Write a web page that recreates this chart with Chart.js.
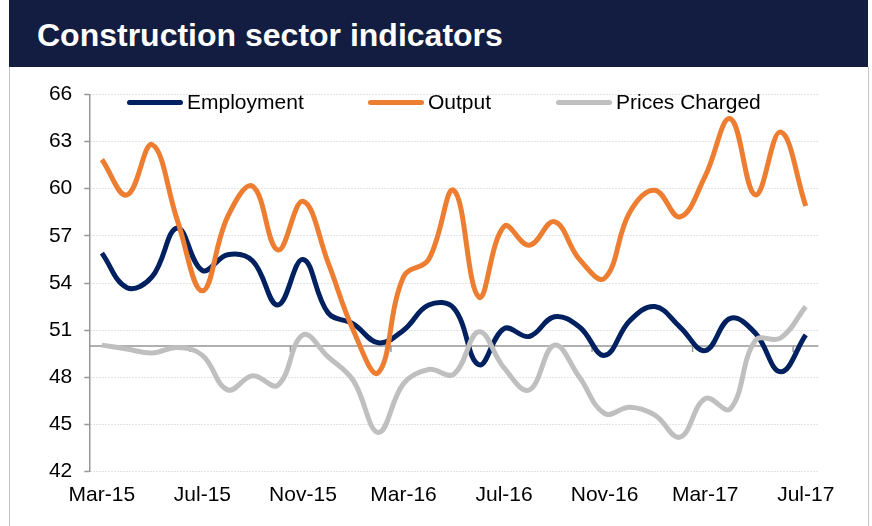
<!DOCTYPE html>
<html>
<head>
<meta charset="utf-8">
<script src="https://cdn.jsdelivr.net/npm/chart.js@4.4.0/dist/chart.umd.min.js"></script>
<style>
    body { margin: 0; background: #fff; font-family: "Liberation Sans", Arial, sans-serif; }
    #page { position: relative; width: 872px; height: 526px; overflow: hidden; }
    #header { position: absolute; left: 9px; top: 0; width: 859px; height: 67px; background: #131c41; }
    #header h1 { margin: 0; position: absolute; left: 28px; top: 15px; color: #fff; font-size: 32px; font-weight: bold; line-height: 40px; }
    #frame { position: absolute; left: 9px; top: 67px; width: 858px; height: 470px; border: 1px solid #c4c4c4; border-top: none; }
    #chart-box { position: absolute; left: 0; top: 67px; width: 872px; height: 459px; }
    #legend { position: absolute; top: 90px; left: 0; height: 24px; font-size: 21px; color: #000; }
    .legend-item { position: absolute; top: 0; display: flex; align-items: center; height: 24px; white-space: nowrap; }
    .legend-swatch { width: 56px; height: 5px; border-radius: 3px; margin-right: 4px; }
</style>
</head>
<body>
<div id="page">
    <div id="header"><h1>Construction sector indicators</h1></div>
    <div id="frame"></div>
    <div id="chart-box"><canvas id="chart"></canvas></div>
    <div id="legend"></div>
</div>
<script>
// Mois (Mar-15 .. Jul-17)
const months = ['Mar-15', 'Apr-15', 'May-15', 'Jun-15', 'Jul-15', 'Aug-15', 'Sep-15', 'Oct-15',
    'Nov-15', 'Dec-15', 'Jan-16', 'Feb-16', 'Mar-16', 'Apr-16', 'May-16', 'Jun-16',
    'Jul-16', 'Aug-16', 'Sep-16', 'Oct-16', 'Nov-16', 'Dec-16', 'Jan-17', 'Feb-17',
    'Mar-17', 'Apr-17', 'May-17', 'Jun-17', 'Jul-17'];

const seriesNames = ['Employment', 'Output', 'Prices Charged'];

const employment = [55.9, 53.7, 54.4, 57.5, 54.8, 55.8, 55.4, 52.6, 55.5, 52.1, 51.4, 50.2, 51.0, 52.6, 52.4,
    48.8, 51.1, 50.6, 51.85, 51.2, 49.4, 51.6, 52.5, 51.2, 49.7, 51.75, 50.8, 48.35, 50.7];

const output = [61.85, 59.6, 62.8, 58.0, 53.5, 58.2, 60.15, 56.1, 59.2, 55.3, 51.0, 48.3, 54.4, 55.5, 59.9,
    53.1, 57.6, 56.4, 57.9, 55.5, 54.3, 58.5, 59.9, 58.2, 60.8, 64.45, 59.6, 63.6, 58.9];

const pricesCharged = [50.05, 49.8, 49.55, 49.9, 49.4, 47.2, 48.1, 47.5, 50.7, 49.3, 47.8, 44.5, 47.6, 48.5, 48.2,
    50.9, 48.6, 47.2, 50.05, 48.0, 45.7, 46.1, 45.6, 44.2, 46.65, 46.0, 50.35, 50.5, 52.5];

const yMin = 42;
const yMax = 66;
const yStep = 3;
const crossValue = 50;   // l'axe horizontal croise à 50
const labelEvery = 4;

const colors = ['#002060', '#ed7d31', '#bfbfbf'];
const FONT = '"Liberation Sans", Arial, sans-serif';

// Axe horizontal à 50 avec petites graduations
const crossAxisPlugin = {
    id: 'crossAxis',
    beforeDatasetsDraw(chart) {
        const { ctx, chartArea, scales } = chart;
        const y = scales.y.getPixelForValue(crossValue);
        const half = (scales.x.getPixelForValue(1) - scales.x.getPixelForValue(0)) / 2;
        ctx.save();
        ctx.strokeStyle = '#979797';
        ctx.lineWidth = 1.5;
        ctx.beginPath();
        ctx.moveTo(chartArea.left, y);
        ctx.lineTo(chartArea.right, y);
        for (let i = labelEvery; i < months.length; i += labelEvery) {
            const x = scales.x.getPixelForValue(i) - half;
            ctx.moveTo(x, y);
            ctx.lineTo(x, y + 6);
        }
        ctx.stroke();
        ctx.restore();
    }
};

const ctx = document.getElementById('chart').getContext('2d');
const chart = new Chart(ctx, {
    type: 'line',
    data: {
        labels: months,
        datasets: [employment, output, pricesCharged].map((values, i) => ({
            label: seriesNames[i],
            data: values,
            borderColor: colors[i],
            backgroundColor: colors[i],
            borderWidth: 5,
            tension: 0.4,
            pointRadius: 0,
            fill: false,
            order: 3 - i
        }))
    },
    options: {
        responsive: true,
        maintainAspectRatio: false,
        animation: false,
        layout: { padding: { left: 9.3, right: 53.7, top: 27.3, bottom: 14.3 } },
        plugins: {
            legend: { display: false },
            tooltip: { enabled: false }
        },
        scales: {
            x: {
                offset: true,
                grid: { display: false, drawTicks: false },
                border: { display: false },
                ticks: {
                    autoSkip: false,
                    maxRotation: 0,
                    padding: 11,
                    color: '#000',
                    font: { family: FONT, size: 21 },
                    callback: (val, idx) => idx % labelEvery === 0 ? months[idx] : ''
                },
                afterFit: (scale) => { scale.height = 40; }
            },
            y: {
                min: yMin,
                max: yMax,
                ticks: {
                    stepSize: yStep,
                    padding: 12,
                    color: '#000',
                    font: { family: FONT, size: 21 }
                },
                grid: {
                    color: '#c8c8c8',
                    lineWidth: 1,
                    tickLength: 5,
                    tickColor: '#979797',
                    tickWidth: 1.5
                },
                border: { display: true, color: '#979797', width: 1.5, dash: [1, 2] },
                afterFit: (scale) => { scale.width = 80; }
            }
        }
    },
    plugins: [crossAxisPlugin]
});

// Légende superposée au graphique
const legendPos = [127, 368, 556];
const legend = document.getElementById('legend');
seriesNames.forEach((name, i) => {
    const item = document.createElement('div');
    item.className = 'legend-item';
    item.style.left = legendPos[i] + 'px';
    item.innerHTML = `<span class="legend-swatch" style="background:${colors[i]}"></span><span>${name}</span>`;
    legend.appendChild(item);
});
</script>
</body>
</html>
